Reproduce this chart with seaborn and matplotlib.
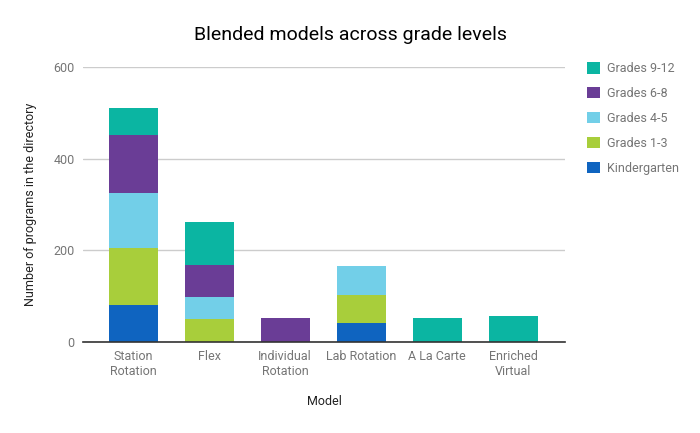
import numpy as np
import pandas as pd
import matplotlib
matplotlib.use('Agg')
import matplotlib.pyplot as plt
import seaborn as sns
from matplotlib.patches import Patch

sns.set_theme(style='white')
plt.rcParams['font.family'] = ['Roboto', 'DejaVu Sans']

models = ['Station\nRotation', 'Flex', 'Individual\nRotation', 'Lab Rotation', 'A La Carte', 'Enriched\nVirtual']
kindergarten = [81, 0, 0, 41, 0, 0]
grades_1_3 = [123, 51, 0, 61, 0, 0]
grades_4_5 = [122, 48, 0, 64, 0, 0]
grades_6_8 = [126, 70, 53, 0, 0, 0]
grades_9_12 = [59, 93, 0, 0, 52, 57]

series = ['Kindergarten', 'Grades 1-3', 'Grades 4-5', 'Grades 6-8', 'Grades 9-12']
colors = ['#0f64c0', '#a8ce3b', '#72cfe8', '#6a3d96', '#0bb5a2']
text_gray = '#757575'

df = pd.DataFrame({'Model': models, 'Kindergarten': kindergarten, 'Grades 1-3': grades_1_3,
                   'Grades 4-5': grades_4_5, 'Grades 6-8': grades_6_8, 'Grades 9-12': grades_9_12})
cum = df[series].cumsum(axis=1)

fig = plt.figure(figsize=(7, 4.33), dpi=100)
ax = fig.add_axes([83 / 700, 1 - 342 / 433, (565 - 83) / 700, (342 - 67) / 433])

# stacked bars: draw cumulative totals from the top layer down
for s, c in zip(series[::-1], colors[::-1]):
    sns.barplot(x=df['Model'], y=cum[s], color=c, width=0.64, saturation=1, linewidth=0,
                ax=ax, zorder=2)

ax.set_ylim(0, 600)
ax.set_xlim(-0.66, 5.68)
ax.set_yticks([0, 200, 400, 600])
ax.yaxis.grid(True, color='#cccccc', lw=1, zorder=0)
ax.set_axisbelow(True)
for sp in ['top', 'right', 'left']:
    ax.spines[sp].set_visible(False)
ax.spines['bottom'].set_color('#333333')
ax.spines['bottom'].set_linewidth(1.2)
ax.spines['bottom'].set_zorder(3)
ax.tick_params(axis='both', length=0, labelsize=9, labelcolor=text_gray, pad=6)
ax.set_xlabel('Model', fontsize=9, color='#222222', labelpad=12)
ax.set_ylabel('Number of programs in the directory', fontsize=9, color='#222222', labelpad=12)

fig.suptitle('Blended models across grade levels', x=350 / 700, y=1 - 26 / 433, va='top',
             fontsize=14, color='#000000')

handles = [Patch(facecolor=c, edgecolor='none', label=s) for s, c in zip(series[::-1], colors[::-1])]
fig.legend(handles=handles, loc='upper left', bbox_to_anchor=(576 / 700, 1 - 51 / 433), frameon=False,
           fontsize=9, labelcolor=text_gray, handlelength=1.0, handleheight=1.0, handletextpad=0.6,
           labelspacing=0.95)

fig.savefig('out.png', dpi=100)
